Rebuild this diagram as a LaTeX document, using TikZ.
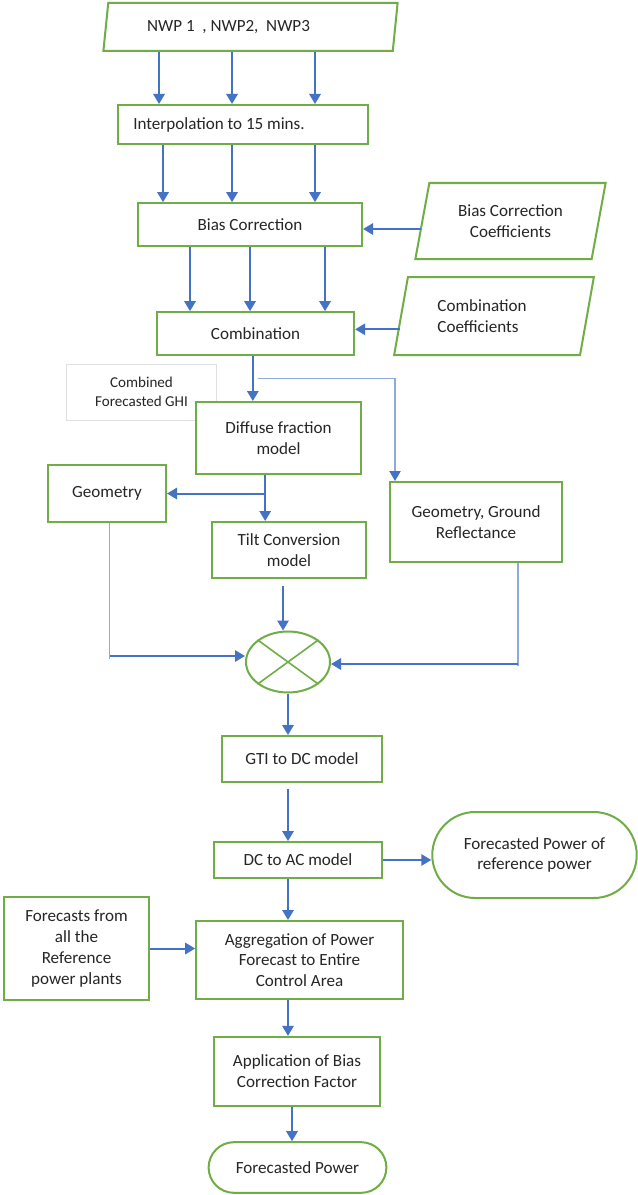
\documentclass[tikz,border=0pt]{standalone}
\usepackage{fontspec}
\setmainfont{Carlito}
\usepackage{xcolor}
\usepackage{tikz}
\usetikzlibrary{shapes.geometric,shapes.misc,arrows.meta,positioning,calc}

\definecolor{boxgreen}{HTML}{70AD47}
\definecolor{flowblue}{HTML}{4472C4}
\definecolor{lineblue}{HTML}{8EA9DB}

\begin{document}
\begin{tikzpicture}[
    x=0.75pt, y=-0.75pt,
    txt/.style={font=\fontsize{12.8}{15.6}\selectfont, text=black!85},
    blk/.style={txt, draw=boxgreen, line width=1.5pt, fill=white, rectangle, align=center, inner sep=2pt},
    data/.style={txt, draw=boxgreen, line width=1.5pt, fill=white, trapezium, trapezium left angle=76, trapezium right angle=104, trapezium stretches=true, align=center, inner sep=2pt},
    term/.style={txt, draw=boxgreen, line width=1.5pt, fill=white, rounded rectangle, align=center},
    arr/.style={draw=flowblue, line width=1.5pt, -{Triangle[width=8.5pt,length=7.5pt]}},
    wire/.style={draw=lineblue, line width=0.8pt}
]
\path[use as bounding box, fill=white] (0,0) rectangle (638,1195);

\node[data, trapezium left angle=79, trapezium right angle=101, minimum width=221pt, minimum height=36pt] (nwp) at (250.5,27) {NWP 1\ \ , NWP2,\ \ NWP3\kern33pt};
\node[blk, minimum width=187.5pt, minimum height=29.25pt] (interp) at (243,124.5) {Interpolation to 15 mins.\kern36pt};
\node[blk, minimum width=168pt, minimum height=32pt] (bias) at (250,224.5) {Bias Correction};
\node[data, minimum width=143pt, minimum height=57pt] (bcoef) at (510.5,221) {Bias Correction\\Coefficients};
\node[blk, minimum width=148pt, minimum height=32pt] (comb) at (255.5,333.5) {Combination};
\node[data, align=left, minimum width=150pt, minimum height=58.5pt] (ccoef) at (494,316) {Combination\kern18pt\\Coefficients};
\node[draw=black!12, line width=0.6pt, align=center, font=\fontsize{11.3}{14.2}\selectfont, text=black!85, minimum width=112pt, minimum height=42pt] (ghi) at (141.5,392) {Combined\\Forecasted GHI};
\node[blk, minimum width=124pt, minimum height=54pt] (diffuse) at (278.5,438) {Diffuse fraction\\model};
\node[blk, minimum width=88.5pt, minimum height=42.75pt] (geom) at (107,493.5) {Geometry};
\node[blk, minimum width=115.5pt, minimum height=42pt] (tilt) at (289,550) {Tilt Conversion\\model};
\node[blk, minimum width=129pt, minimum height=60pt] (geomgr) at (476,522) {Geometry, Ground\\Reflectance};
\node[draw=boxgreen, line width=1.5pt, fill=white, ellipse, inner sep=0pt, minimum width=63pt, minimum height=45.75pt] (mix) at (288,662) {};
\node[blk, minimum width=120pt, minimum height=34.5pt] (gtidc) at (302,759) {GTI to DC model};
\node[blk, minimum width=126pt, minimum height=27pt] (dcac) at (298,860) {DC to AC model};
\node[term, minimum width=160pt, minimum height=64.5pt] (refpow) at (534.5,855) {Forecasted Power of\\reference power};
\node[blk, minimum width=109pt, minimum height=77pt] (fcall) at (76.5,948.5) {Forecasts from\\all the\\Reference\\power plants};
\node[blk, minimum width=155pt, minimum height=58.5pt] (aggr) at (299.5,960) {Aggregation of Power\\Forecast to Entire\\Control Area};
\node[blk, minimum width=124.5pt, minimum height=52pt] (app) at (297,1071.5) {Application of Bias\\Correction Factor};
\node[term, minimum width=140pt, minimum height=38pt] (final) at (297.5,1167.5) {Forecasted Power};

\draw[boxgreen, line width=1.2pt] (mix.36) -- (mix.216) (mix.144) -- (mix.324);

\foreach \x in {159,232,315}
  \draw[arr] (nwp.south -| \x,0) -- (interp.north -| \x,0);
\foreach \x in {163,232,315}
  \draw[arr] (interp.south -| \x,0) -- (bias.north -| \x,0);
\foreach \x in {190,250,325}
  \draw[arr] (bias.south -| \x,0) -- (comb.north -| \x,0);
\draw[arr] ([yshift=-6pt]bcoef.west) -- ([yshift=-6pt]bcoef.west -| bias.east);
\draw[arr] ([yshift=-10pt]ccoef.west) -- ([yshift=-10pt]ccoef.west -| comb.east);

\draw[arr] ([xshift=-2pt]comb.south) -- ([xshift=-2pt]comb.south |- diffuse.north);
\coordinate (split) at ($(comb.south)+(2,23)$);
\draw[wire, -{Triangle[width=8.5pt,length=7.5pt,color=flowblue]}] (split) -| ([xshift=4.5pt]geomgr.north west);

\draw[arr] ([xshift=-10pt]diffuse.south) -- ([xshift=-10pt]diffuse.south |- tilt.north);
\coordinate (dsplit) at ([xshift=-10pt]diffuse.south |- geom.east);
\draw[arr] (dsplit) -- (geom.east);

\draw[arr] ($(tilt.south)+(-6,7)$) -- ($(tilt.south |- mix.north)+(-6,0)$);
\coordinate (gbend) at ($(geom.south |- mix.west)+(2.7,-6)$);
\draw[wire] ($(geom.south)+(2.7,0)$) -- ($(gbend)+(0,3)$);
\draw[arr] (gbend) -- (mix.west |- gbend);
\coordinate (rbend) at ($(geomgr.south |- mix.east)+(42,2)$);
\draw[wire] ($(geomgr.south)+(42,0)$) -- ($(rbend)+(0,2)$);
\draw[arr] (rbend) -- (mix.east |- rbend);

\draw[arr] (mix.south) -- (mix.south |- gtidc.north);
\draw[arr] ($(gtidc.south -| mix.south)+(0,6)$) -- (dcac.north -| mix.south);
\draw[arr] (dcac.east) -- (dcac.east -| refpow.west);
\draw[arr] (dcac.south -| mix.south) -- (aggr.north -| mix.south);
\draw[arr] (fcall.east) -- (fcall.east -| aggr.west);
\draw[arr] (aggr.south -| mix.south) -- (app.north -| mix.south);
\draw[arr] ($(app.south)+(-5,0)$) -- ($(app.south |- final.north)+(-5,0)$);
\end{tikzpicture}
\end{document}
